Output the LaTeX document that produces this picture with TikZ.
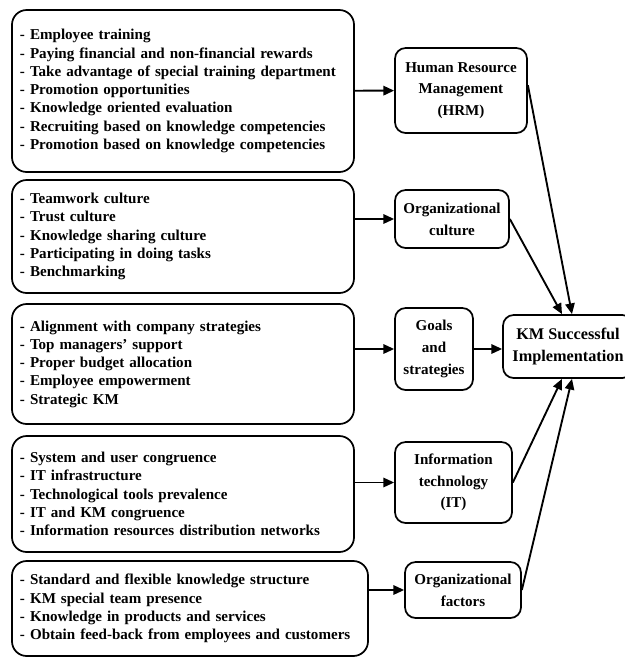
\documentclass[tikz,border=0pt]{standalone}
\usepackage{fontspec}
\setmainfont{Liberation Serif}
\usetikzlibrary{arrows.meta,positioning,calc}

\begin{document}
\begin{tikzpicture}
[x=0.75pt,y=-0.75pt,
listbox/.style={shape=rectangle,draw=black,line width=1.3pt,rounded corners=11pt,
  inner sep=6pt,align=left,font=\bfseries\fontsize{11.3}{13.7}\selectfont},
factor/.style={shape=rectangle,draw=black,line width=1.3pt,rounded corners=8pt,
  inner sep=2pt,align=center,font=\bfseries\fontsize{11.3}{16.3}\selectfont},
goal/.style={factor,font=\bfseries\fontsize{12.2}{17}\selectfont},
myedge/.style={line width=1.4pt,-{Triangle[length=8pt,width=7pt]}}]
\useasboundingbox (0,0) rectangle (625,658);
%%
\node (l1) [listbox,minimum width=256.5pt,minimum height=121.5pt,text width=244.5pt] at (183,91)
 {- Employee training\\
  - Paying financial and non-financial rewards\\
  - Take advantage of special training department\\
  - Promotion opportunities\\
  - Knowledge oriented evaluation\\
  - Recruiting based on knowledge competencies\\
  - Promotion based on knowledge competencies};
\node (l2) [listbox,minimum width=256.5pt,minimum height=84.75pt,text width=244.5pt] at (183,236.5)
 {- Teamwork culture\\
  - Trust culture\\
  - Knowledge sharing culture\\
  - Participating in doing tasks\\
  - Benchmarking};
\node (l3) [listbox,minimum width=256.5pt,minimum height=90pt,text width=244.5pt] at (183,364)
 {- Alignment with company strategies\\
  - Top managers' support\\
  - Proper budget allocation\\
  - Employee empowerment\\
  - Strategic KM};
\node (l4) [listbox,minimum width=256.5pt,minimum height=87pt,text width=244.5pt] at (183,494)
 {- System and user congruence\\
  - IT infrastructure\\
  - Technological tools prevalence\\
  - IT and KM congruence\\
  - Information resources distribution networks};
\node (l5) [listbox,minimum width=267pt,minimum height=71.25pt,text width=255pt] at (190,608.5)
 {- Standard and flexible knowledge structure\\
  - KM special team presence\\
  - Knowledge in products and services\\
  - Obtain feed-back from employees and customers};
%%
\node (hrm) [factor,minimum width=99pt,minimum height=63.75pt] at (461,90.5)
 {Human Resource\\ Management\\ (HRM)};
\node (cult) [factor,minimum width=85.5pt,minimum height=43.5pt] at (452,219)
 {Organizational\\ culture};
\node (goals) [factor,minimum width=58.5pt,minimum height=61.5pt] at (434,349)
 {Goals\\ and\\ strategies};
\node (it) [factor,minimum width=87.75pt,minimum height=60.75pt] at (453.5,482.5)
 {Information\\ technology\\ (IT)};
\node (orgf) [factor,minimum width=87pt,minimum height=42pt] at (463,590)
 {Organizational\\ factors};
\node (km) [goal,minimum width=97.5pt,minimum height=47.25pt] at (568,346.5)
 {KM Successful\\ Implementation};
%%
\draw[myedge] (l1) -- (hrm);
\draw[myedge] (l2.east |- cult) -- (cult);
\draw[myedge] (l3.east |- goals) -- (goals);
\draw[myedge] (l4.east |- it) -- (it);
\draw[myedge] (l5.east |- orgf) -- (orgf);
\draw[myedge] (goals.east) -- (km.west |- goals.east);
\draw[myedge] ([yshift=4pt]hrm.east) -- ([xshift=3pt]km.north);
\draw[myedge] (cult.east) -- ([xshift=-4.5pt]km.north);
\draw[myedge] (it.east) -- ([xshift=-4.5pt]km.south);
\draw[myedge] (orgf.east) -- ([xshift=3pt]km.south);
\end{tikzpicture}
\end{document}
